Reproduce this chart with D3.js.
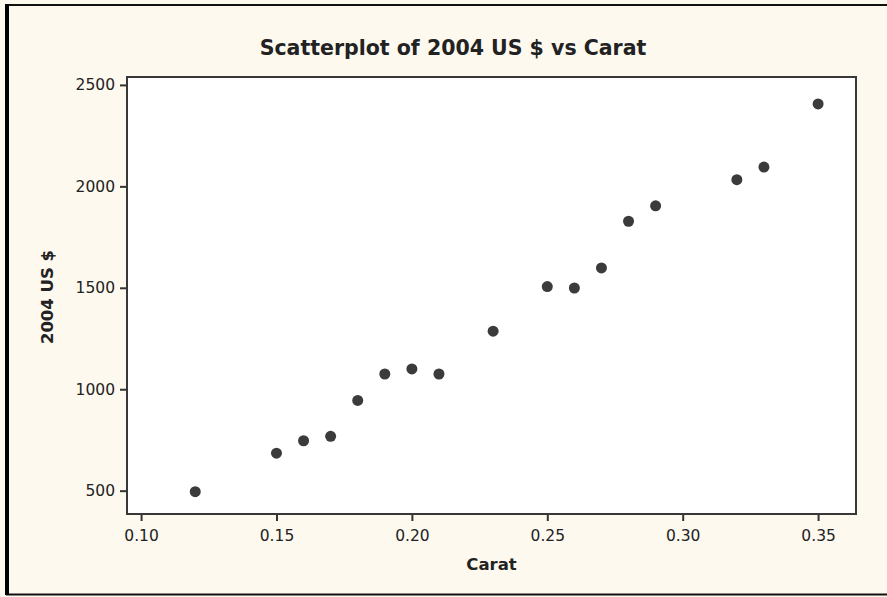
<!DOCTYPE html>
<html>
<head>
<meta charset="utf-8">
<script src="https://cdn.jsdelivr.net/npm/d3@7"></script>
<style>
  body { margin: 0; background: #ffffff; }
  svg text { font-family: "DejaVu Sans", Verdana, sans-serif; fill: #222; }
</style>
</head>
<body>
<div id="chart"></div>
<script>
var carat = [0.12, 0.15, 0.16, 0.17, 0.18, 0.19, 0.20, 0.21, 0.23, 0.25, 0.26, 0.27, 0.28, 0.29, 0.32, 0.33, 0.35];
var price = [495, 685, 746, 768, 945, 1075, 1100, 1075, 1286, 1506, 1499, 1598, 1828, 1904, 2033, 2095, 2406];

var xTicks = [0.10, 0.15, 0.20, 0.25, 0.30, 0.35];
var yTicks = [500, 1000, 1500, 2000, 2500];

var title = "Scatterplot of 2004 US $ vs Carat";
var xLabel = "Carat";
var yLabel = "2004 US $";

var W = 887, H = 597;
var margin = {top: 77, right: 31, bottom: 83, left: 127};
var width = W - margin.left - margin.right,
    height = H - margin.top - margin.bottom;

var svg = d3.select("#chart").append("svg")
  .attr("width", W)
  .attr("height", H);

// cream background and frame
svg.append("rect")
  .attr("x", 0).attr("y", 0).attr("width", W).attr("height", H)
  .attr("fill", "#fdf9ef");
svg.append("rect")
  .attr("x", 7).attr("y", 5).attr("width", W + 10).attr("height", 589.5)
  .attr("fill", "none").attr("stroke", "#111").attr("stroke-width", 2);
svg.append("line")
  .attr("x1", 7).attr("x2", 7).attr("y1", 4).attr("y2", 595)
  .attr("stroke", "#000").attr("stroke-width", 4);

var x = d3.scaleLinear()
  .domain([0.0948, 0.364])
  .range([0, width]);

var y = d3.scaleLinear()
  .domain([385, 2539])
  .range([height, 0]);

var g = svg.append("g")
  .attr("transform", "translate(" + margin.left + "," + margin.top + ")");

g.append("rect")
  .attr("width", width).attr("height", height)
  .attr("fill", "#ffffff");

var xAxis = g.append("g")
  .attr("transform", "translate(0," + height + ")")
  .call(d3.axisBottom(x).tickValues(xTicks).tickFormat(d3.format(".2f"))
    .tickSize(7).tickSizeOuter(0).tickPadding(9));

var yAxis = g.append("g")
  .call(d3.axisLeft(y).tickValues(yTicks).tickFormat(d3.format("d"))
    .tickSize(7).tickSizeOuter(0).tickPadding(5));

[xAxis, yAxis].forEach(function(a) {
  a.select(".domain").remove();
  a.selectAll(".tick line").attr("stroke", "#333").attr("stroke-width", 2);
  a.selectAll(".tick text")
    .style("font-size", "15.5px")
    .style("font-family", "'DejaVu Sans', Verdana, sans-serif")
    .attr("fill", "#2a2a2a");
});

// plot border
g.append("rect")
  .attr("width", width).attr("height", height)
  .attr("fill", "none").attr("stroke", "#383838").attr("stroke-width", 2);

g.selectAll(".dot")
  .data(carat)
  .enter().append("circle")
  .attr("class", "dot")
  .attr("cx", function(d) { return x(d); })
  .attr("cy", function(d, i) { return y(price[i]); })
  .attr("r", 5.5)
  .attr("fill", "#3b3b3b");

svg.append("text")
  .attr("x", 453).attr("y", 55)
  .attr("text-anchor", "middle")
  .style("font-size", "20.5px")
  .style("font-weight", "bold")
  .attr("fill", "#1a1a22")
  .text(title);

svg.append("text")
  .attr("x", margin.left + width / 2).attr("y", 570)
  .attr("text-anchor", "middle")
  .style("font-size", "16.5px")
  .style("font-weight", "bold")
  .text(xLabel);

svg.append("text")
  .attr("transform", "translate(53,297) rotate(-90)")
  .attr("text-anchor", "middle")
  .style("font-size", "16.5px")
  .style("font-weight", "bold")
  .text(yLabel);
</script>
</body>
</html>
